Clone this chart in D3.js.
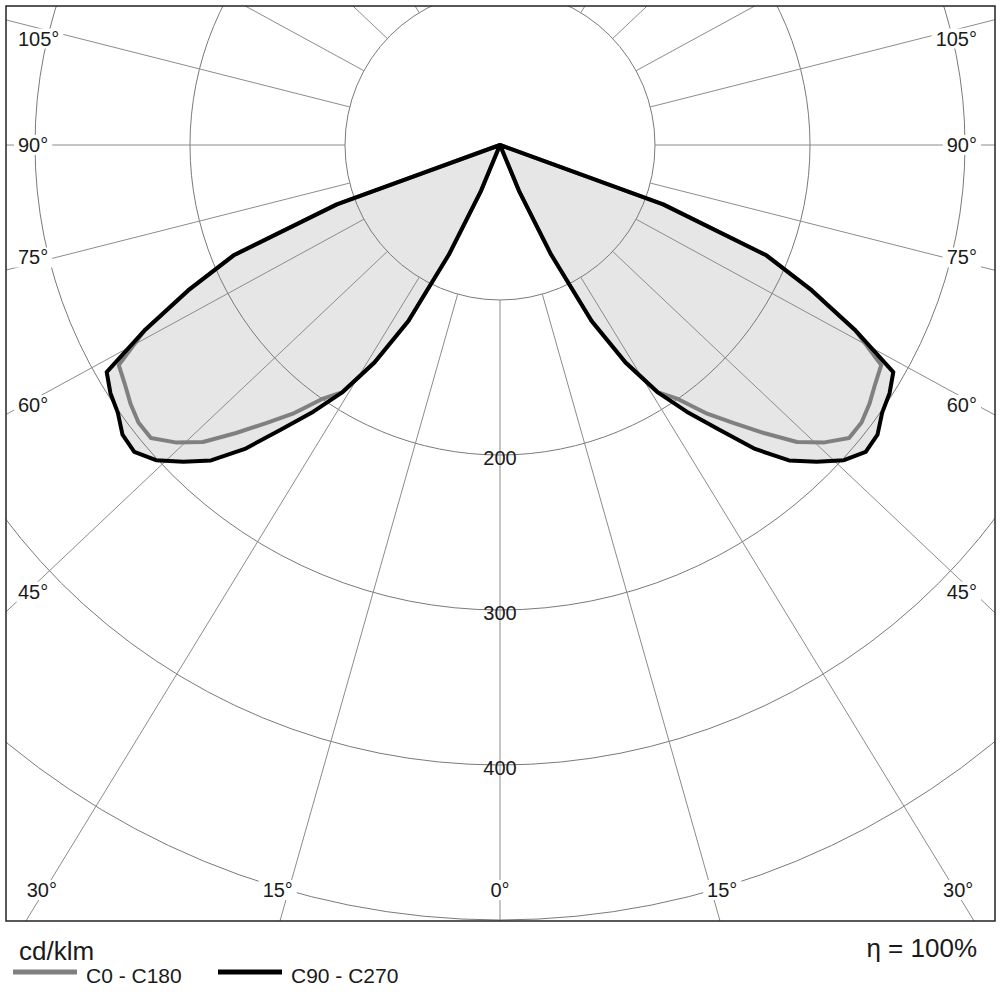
<!DOCTYPE html>
<html>
<head>
<meta charset="utf-8">
<script src="https://cdn.jsdelivr.net/npm/d3@7"></script>
<style>
  body { margin: 0; background: #fff; }
  svg { display: block; font-family: "Liberation Sans", Arial, sans-serif; }
</style>
</head>
<body>
<svg id="chart" width="1000" height="1000"></svg>
<script>
// ------ DATA ------
// gamma angles (deg from nadir), read every 2.5 deg
const gammaAngles = [0, 2.5, 5, 7.5, 10, 12.5, 15, 17.5, 20, 22.5, 25, 27.5, 30, 32.5, 35, 37.5,
  40, 42.5, 45, 47.5, 50, 52.5, 55, 57.5, 60, 62.5, 65, 67.5, 70, 72.5, 75, 77.5, 80, 82.5, 85, 87.5, 90];

// cd/klm, C90 - C270 plane (black)
const c90c270 = [0, 0, 0, 0, 0, 0, 0, 0, 0, 32, 78, 128, 162, 189, 210, 231,
  256, 276, 289, 301, 308, 307, 301, 298, 293, 258, 222, 186, 112, 0, 0, 0, 0, 0, 0, 0, 0];

// cd/klm, C0 - C180 plane (grey)
const c0c180 = [0, 0, 0, 0, 0, 0, 0, 0, 0, 32, 78, 128, 162, 189, 200, 218,
  234, 252, 271, 284, 294, 294, 291, 287, 284, 258, 222, 186, 112, 0, 0, 0, 0, 0, 0, 0, 0];

const ringValues = [100, 200, 300, 400, 500];
const ringLabels = [200, 300, 400];
const sideAngleLabels = [105, 90, 75, 60, 45];
const bottomAngleLabels = [30, 15, 0];
const spokeAngles = [-180, -165, -150, -135, -120, -105, -90, -75, -60, -45, -30, -15,
  0, 15, 30, 45, 60, 75, 90, 105, 120, 135, 150, 165];

// ------ LAYOUT ------
const frame = {x0: 6, y0: 6, x1: 995, y1: 921};
const cx = 500, cy = 145;
const squash = 0.945;   // spokes in the original are slightly flattened

const r = d3.scaleLinear().domain([0, 500]).range([0, 775]);
const rad = d => d * Math.PI / 180;

const svg = d3.select("#chart");

svg.append("defs").append("clipPath").attr("id", "frameClip")
  .append("rect")
    .attr("x", frame.x0).attr("y", frame.y0)
    .attr("width", frame.x1 - frame.x0).attr("height", frame.y1 - frame.y0);

const plot = svg.append("g").attr("clip-path", "url(#frameClip)");
const g = plot.append("g").attr("transform", `translate(${cx},${cy})`);

// build curve points: left side 90 -> 0, then right side 0 -> 90
function curvePoints(values) {
  const pts = [];
  for (let i = gammaAngles.length - 1; i >= 0; i--) pts.push({a: Math.PI + rad(gammaAngles[i]), v: values[i]});
  for (let i = 0; i < gammaAngles.length; i++) pts.push({a: Math.PI - rad(gammaAngles[i]), v: values[i]});
  return pts;
}

const radialLine = d3.lineRadial()
  .angle(d => d.a)
  .radius(d => r(d.v))
  .curve(d3.curveLinearClosed);

// fills first
[c90c270, c0c180].forEach(vals => {
  g.append("path")
    .attr("d", radialLine(curvePoints(vals)))
    .attr("fill", "#e6e6e6")
    .attr("stroke", "none");
});

// rings
g.selectAll(".ring")
  .data(ringValues)
  .join("circle")
    .attr("class", "ring")
    .attr("r", d => r(d))
    .attr("fill", "none")
    .attr("stroke", "#7a7a7a")
    .attr("stroke-width", 1);

// spokes, starting at the first ring
function spokeDir(deg) {
  const dx = Math.sin(rad(deg)), dy = squash * Math.cos(rad(deg));
  const len = Math.hypot(dx, dy);
  return [dx / len, dy / len];
}
g.selectAll(".spoke")
  .data(spokeAngles)
  .join("line")
    .attr("class", "spoke")
    .attr("x1", d => spokeDir(d)[0] * r(100))
    .attr("y1", d => spokeDir(d)[1] * r(100))
    .attr("x2", d => spokeDir(d)[0] * 1600)
    .attr("y2", d => spokeDir(d)[1] * 1600)
    .attr("stroke", "#8c8c8c")
    .attr("stroke-width", 1);

// curves
g.append("path")
  .attr("d", radialLine(curvePoints(c0c180)))
  .attr("fill", "none")
  .attr("stroke", "#808080")
  .attr("stroke-width", 4)
  .attr("stroke-linejoin", "round");

g.append("path")
  .attr("d", radialLine(curvePoints(c90c270)))
  .attr("fill", "none")
  .attr("stroke", "#000")
  .attr("stroke-width", 4)
  .attr("stroke-linejoin", "round");

// ring value labels
g.selectAll(".ringLabel")
  .data(ringLabels)
  .join("text")
    .attr("class", "ringLabel")
    .attr("x", 0)
    .attr("y", d => r(d) + 3)
    .attr("text-anchor", "middle")
    .attr("dominant-baseline", "central")
    .attr("font-size", 20)
    .attr("fill", "#1a1a1a")
    .text(d => d);

// angle labels with white knock-out boxes
const labelLayer = plot.append("g");
function angleLabel(text, x, y, anchor) {
  const t = labelLayer.append("text")
    .attr("x", x).attr("y", y)
    .attr("text-anchor", anchor)
    .attr("dominant-baseline", "central")
    .attr("font-size", 20)
    .attr("fill", "#1a1a1a")
    .text(text);
  const bb = t.node().getBBox();
  labelLayer.insert("rect", "text")
    .attr("x", bb.x - 4).attr("y", bb.y + 1)
    .attr("width", bb.width + 8).attr("height", bb.height - 2)
    .attr("fill", "#fff");
}

const sideNudge = {105: 10, 90: 0, 75: -4, 60: 9, 45: 12};
sideAngleLabels.forEach(a => {
  const [dx, dy] = spokeDir(a);
  const yAt = cy + dy / dx * (cx - 40) + sideNudge[a];
  angleLabel(a + "°", 18, yAt, "start");
  angleLabel(a + "°", 977, yAt, "end");
});

const bottomNudge = {30: 3, 15: 11, 0: 0};
bottomAngleLabels.forEach(a => {
  const [dx, dy] = spokeDir(a);
  const xOff = dx / dy * (890 - cy) + bottomNudge[a];
  if (a === 0) {
    angleLabel(a + "°", cx, 890, "middle");
  } else {
    angleLabel(a + "°", cx - xOff, 890, "middle");
    angleLabel(a + "°", cx + xOff, 890, "middle");
  }
});

// frame
svg.append("rect")
  .attr("x", frame.x0).attr("y", frame.y0)
  .attr("width", frame.x1 - frame.x0).attr("height", frame.y1 - frame.y0)
  .attr("fill", "none")
  .attr("stroke", "#222")
  .attr("stroke-width", 1.5);

// footer
svg.append("text")
  .attr("x", 19).attr("y", 960)
  .attr("font-size", 26).attr("fill", "#1a1a1a")
  .text("cd/klm");

svg.append("text")
  .attr("x", 977).attr("y", 957)
  .attr("text-anchor", "end")
  .attr("font-size", 26).attr("fill", "#1a1a1a")
  .text("η = 100%");

const legendItems = [
  {name: "C0 - C180", color: "#808080", x: 13},
  {name: "C90 - C270", color: "#000", x: 218}
];
legendItems.forEach(it => {
  svg.append("line")
    .attr("x1", it.x).attr("x2", it.x + 64)
    .attr("y1", 972).attr("y2", 972)
    .attr("stroke", it.color)
    .attr("stroke-width", 5);
  svg.append("text")
    .attr("x", it.x + 73).attr("y", 983)
    .attr("font-size", 21).attr("fill", "#1a1a1a")
    .text(it.name);
});
</script>
</body>
</html>
